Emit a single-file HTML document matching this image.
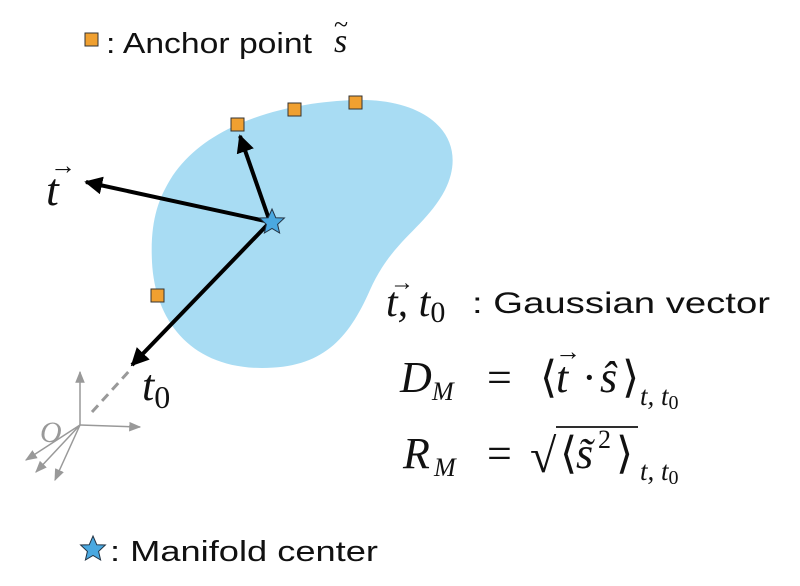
<!DOCTYPE html>
<html><head><meta charset="utf-8"><style>
body{margin:0;background:#fff;}
svg{display:block}
.s{font-family:"Liberation Serif",serif;font-style:italic;fill:#111}
.n{font-family:"Liberation Serif",serif;font-style:normal;fill:#111}
.a{font-family:"Liberation Sans",sans-serif;fill:#111}
</style></head><body>
<svg width="800" height="586" viewBox="0 0 800 586">
<defs>
<marker id="ah" viewBox="0 0 10 10" refX="9" refY="5" markerWidth="4.5" markerHeight="4.5" orient="auto"><path d="M0,0L10,5L0,10z" fill="#000"/></marker>
<marker id="gh" viewBox="0 0 10 10" refX="9" refY="5" markerWidth="8" markerHeight="8" orient="auto"><path d="M0,1L10,5L0,9z" fill="#999"/></marker>
</defs>
<path d="M170,180 C205,122 290,102 355,100 C432,98 470,140 445,190 C425,228 392,240 370,290 C348,340 322,368 262,368 C192,368 155,322 152,262 C150,222 158,200 170,180 Z" fill="#a8dcf3"/>
<g stroke="#999" stroke-width="1.5" fill="none">
<line x1="80" y1="425" x2="80" y2="372" marker-end="url(#gh)"/>
<line x1="80" y1="425" x2="140" y2="427" marker-end="url(#gh)"/>
<line x1="80" y1="425" x2="26" y2="460" marker-end="url(#gh)"/>
<line x1="80" y1="425" x2="36" y2="472" marker-end="url(#gh)"/>
<line x1="80" y1="425" x2="55" y2="480" marker-end="url(#gh)"/>
<line x1="92" y1="412" x2="130" y2="370" stroke-dasharray="9,6" stroke-width="3"/>
</g>
<text class="s" x="40" y="442" font-size="30" style="fill:#999">O</text>
<g stroke="#000" stroke-width="4" fill="none">
<line x1="270" y1="222" x2="240" y2="136" marker-end="url(#ah)"/>
<line x1="270" y1="222" x2="86" y2="182" marker-end="url(#ah)"/>
<line x1="270" y1="222" x2="132" y2="365" marker-end="url(#ah)"/>
</g>
<g fill="#f0a030" stroke="#333" stroke-width="1">
<rect x="231" y="118" width="13" height="13"/>
<rect x="288" y="103" width="13" height="13"/>
<rect x="349" y="96" width="13" height="13"/>
<rect x="151" y="289" width="13" height="13"/>
<rect x="85" y="33" width="13" height="13"/>
</g>
<path transform="translate(272,222)" d="M0,-13 L3.8,-4.2 L12.4,-4 L5.6,2.4 L7.6,11 L0,6.4 L-7.6,11 L-5.6,2.4 L-12.4,-4 L-3.8,-4.2 Z" fill="#4aa8e0" stroke="#234" stroke-width="1"/>
<path transform="translate(93,549)" d="M0,-13 L3.8,-4.2 L12.4,-4 L5.6,2.4 L7.6,11 L0,6.4 L-7.6,11 L-5.6,2.4 L-12.4,-4 L-3.8,-4.2 Z" fill="#4aa8e0" stroke="#234" stroke-width="1"/>
<text class="s" x="46" y="205" font-size="46">t</text>
<text class="n" x="50" y="174" font-size="26">→</text>
<text class="s" x="142" y="400" font-size="44">t<tspan class="n" font-size="32" dy="8">0</tspan></text>
<text class="a" x="106" y="53" font-size="29" textLength="206" lengthAdjust="spacingAndGlyphs">: Anchor point</text>
<text class="s" x="334" y="52" font-size="34">s</text>
<text class="n" x="334" y="33" font-size="26">~</text>
<text class="a" x="110" y="561" font-size="29" textLength="268" lengthAdjust="spacingAndGlyphs">: Manifold center</text>
<text class="s" x="386" y="316" font-size="42">t, t<tspan class="n" font-size="30" dy="6">0</tspan></text>
<text class="n" x="390" y="290" font-size="24">→</text>
<text class="a" x="472" y="313" font-size="30" textLength="298" lengthAdjust="spacingAndGlyphs">: Gaussian vector</text>
<g>
<text class="s" x="400" y="392" font-size="44">D</text>
<text class="s" x="432" y="400" font-size="26">M</text>
<text class="n" x="487" y="392" font-size="44">=</text>
<text class="n" x="540" y="392" font-size="44">⟨</text>
<text class="s" x="556" y="392" font-size="44">t</text>
<text class="n" x="555" y="360" font-size="26">→</text>
<text class="n" x="582" y="392" font-size="44">·</text>
<text class="s" x="600" y="392" font-size="44">ŝ</text>
<text class="n" x="622" y="392" font-size="44">⟩</text>
<text class="s" x="640" y="405" font-size="27">t, t<tspan class="n" font-size="20" dy="4">0</tspan></text>
</g>
<g>
<text class="s" x="403" y="468" font-size="44">R</text>
<text class="s" x="434" y="476" font-size="26">M</text>
<text class="n" x="487" y="468" font-size="44">=</text>
<text class="n" x="530" y="472" font-size="48">√</text>
<text class="n" x="560" y="468" font-size="44">⟨</text>
<text class="s" x="576" y="468" font-size="44">s̃</text>
<text class="n" x="598" y="448" font-size="26">2</text>
<text class="n" x="616" y="468" font-size="44">⟩</text>
<text class="s" x="640" y="480" font-size="27">t, t<tspan class="n" font-size="20" dy="4">0</tspan></text>
</g>
<line x1="556" y1="427" x2="638" y2="427" stroke="#111" stroke-width="1.8"/>
</svg>
</body></html>
